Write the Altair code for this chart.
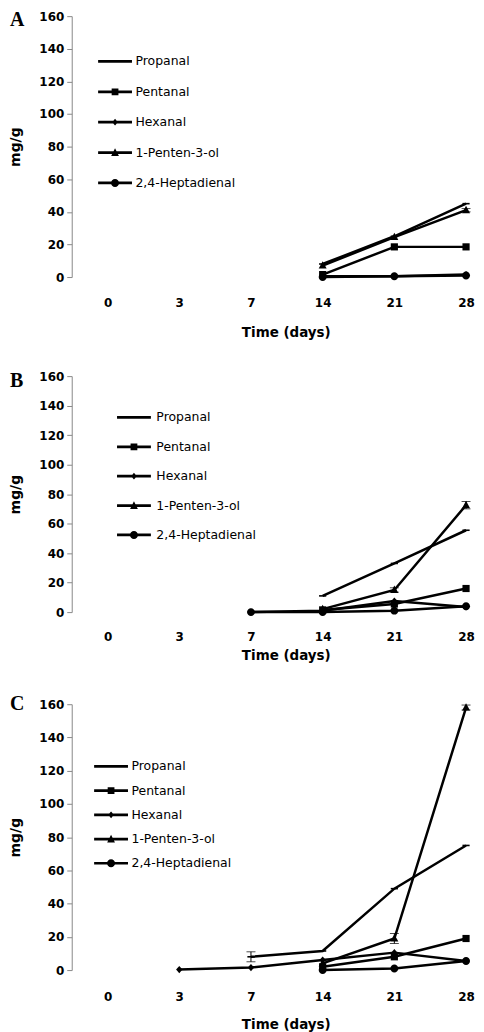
import altair as alt
import pandas as pd

# ---------------- data ----------------
days = ["0", "3", "7", "14", "21", "28"]
series = ["Propanal", "Pentanal", "Hexanal", "1-Penten-3-ol", "2,4-Heptadienal"]

# Panel A (None = not detected)
A_propanal = [None, None, None, 8, 25, 45]
A_pentanal = [None, None, None, 1.5, 18.5, 18.5]
A_hexanal = [None, None, None, 0.5, 0.5, 1.5]
A_penten = [None, None, None, 7, 24.5, 41]
A_heptadienal = [None, None, None, 0, 0.5, 1]

# Panel B
B_propanal = [None, None, None, 11, 33, 55.5]
B_pentanal = [None, None, None, 1.5, 5.5, 16]
B_hexanal = [None, None, 0, 1, 7.5, 3.5]
B_penten = [None, None, None, 2, 15, 72.5]
B_heptadienal = [None, None, 0, 0, 1, 4]

# Panel C
C_propanal = [None, None, 8, 11.5, 49, 75]
C_pentanal = [None, None, None, 2, 8, 19]
C_hexanal = [None, 0.3, 1.5, 6, 10.5, 5.5]
C_penten = [None, None, None, 4, 19, 158]
C_heptadienal = [None, None, None, 0, 1, 5.5]

# error bars (standard deviation, 0 = none visible)
A_err_penten = [0, 0, 0, 0, 0, 1]
B_err_penten = [0, 0, 0, 0, 1.5, 2.5]
C_err_propanal = [0, 0, 3, 0, 0, 0]
C_err_penten = [0, 0, 0, 0, 3, 1.5]

# ---------------- styles ----------------
marker_paths = [
    "M-0.9,-0.2H0.9V0.2H-0.9Z",                       # dash
    "M-0.9,-0.9H0.9V0.9H-0.9Z",                       # square
    "M0,-0.9L0.8,0L0,0.9L-0.8,0Z",                    # small diamond
    "M0,-1.1L1,0.75H-1Z",                             # triangle
    "M-1,0A1,1,0,1,1,1,0A1,1,0,1,1,-1,0Z",            # circle
]
LINE = "M-1,-0.08H1V0.08H-1Z"
legend_paths = [
    LINE,
    LINE + "M-0.2,-0.2H0.2V0.2H-0.2Z",
    LINE + "M0,-0.2L0.17,0L0,0.2L-0.17,0Z",
    LINE + "M0,-0.25L0.23,0.2H-0.23Z",
    LINE + "M-0.24,0A0.24,0.24,0,1,1,0.24,0A0.24,0.24,0,1,1,-0.24,0Z",
]

FONT = "DejaVu Sans"


def panel(letter, vals, errs, height, lab_pad, title_pad, leg_x, leg_y, row_pad,
          letter_y, lab_offset):
    rows = []
    for s, vs in zip(series, vals):
        for i, (d, v) in enumerate(zip(days, vs)):
            if v is not None:
                rows.append({"series": s, "day": d, "idx": i, "value": v})
    df = pd.DataFrame(rows)

    erows = []
    for s, es in errs.items():
        vs = vals[series.index(s)]
        for d, v, e in zip(days, vs, es):
            if v is not None and e:
                erows.append({"series": s, "day": d, "lo": v - e, "hi": v + e})
    edf = pd.DataFrame(erows)

    xenc = alt.X(
        "day:O", sort=days,
        scale=alt.Scale(type="point", domain=days, range=[36, 396], padding=0),
        axis=alt.Axis(title="Time (days)", labelAngle=0, domain=False, ticks=False,
                      labelPadding=lab_pad, titlePadding=title_pad,
                      titleX=215, titleAlign="center",
                      labelFont=FONT, labelFontSize=12, labelFontWeight="bold",
                      labelColor="black", titleFont=FONT, titleFontSize=13.5,
                      titleFontWeight="bold", titleColor="black"),
    )
    yaxis = alt.Axis(title="mg/g", values=list(range(0, 161, 20)), grid=False,
                     domainColor="#888888", tickColor="#888888", tickSize=5,
                     labelPadding=3, titlePadding=16,
                     labelFont=FONT, labelFontSize=12, labelFontWeight="bold",
                     labelColor="black", titleFont=FONT, titleFontSize=14,
                     titleFontWeight="bold", titleColor="black")
    yscale = alt.Scale(domain=[0, 160], nice=False)

    base = alt.Chart(df)
    lines = base.mark_line(color="black", strokeWidth=2.5).encode(
        x=xenc, y=alt.Y("value:Q", scale=yscale, axis=yaxis),
        detail="series:N", order="idx:Q")
    layers = [lines]
    if len(edf):
        eb = alt.Chart(edf)
        layers.append(eb.mark_rule(color="black", strokeWidth=1).encode(
            x=xenc, y=alt.Y("lo:Q", scale=yscale, axis=yaxis), y2="hi:Q"))
        layers.append(eb.mark_tick(color="black", thickness=1, size=9).encode(
            x=xenc, y=alt.Y("lo:Q", scale=yscale, axis=yaxis)))
        layers.append(eb.mark_tick(color="black", thickness=1, size=9).encode(
            x=xenc, y=alt.Y("hi:Q", scale=yscale, axis=yaxis)))
    pts = base.mark_point(filled=True, color="black", opacity=1, size=64).encode(
        x=xenc, y=alt.Y("value:Q", scale=yscale, axis=yaxis),
        shape=alt.Shape("series:N", scale=alt.Scale(domain=series, range=marker_paths),
                        legend=None))
    leg = base.mark_point(filled=True, color="black", opacity=0).encode(
        x=xenc, y=alt.Y("value:Q", scale=yscale, axis=yaxis),
        shape=alt.Shape("series:N", scale=alt.Scale(domain=series, range=legend_paths),
                        legend=alt.Legend(orient="none", legendX=leg_x, legendY=leg_y,
                                          title=None, labelFont=FONT, labelFontSize=12.5,
                                          labelColor="black", symbolSize=1156,
                                          symbolFillColor="black", symbolStrokeColor="black",
                                          symbolStrokeWidth=0.5, symbolOpacity=1,
                                          labelOffset=lab_offset, rowPadding=row_pad,
                                          padding=0)))
    label = alt.Chart(pd.DataFrame({"panel": [letter]})).mark_text(
        font="Liberation Serif", fontSize=20, fontWeight="bold", color="black",
        align="left", baseline="top").encode(
        text="panel:N", x=alt.value(-62), y=alt.value(letter_y))
    layers += [pts, leg, label]
    return alt.layer(*layers).resolve_scale(shape="independent").properties(
        width=406, height=height)


pA = panel("A", [A_propanal, A_pentanal, A_hexanal, A_penten, A_heptadienal],
           {"1-Penten-3-ol": A_err_penten}, 262, 21, 17, 26, 28, 6.5, -6, 3)
pB = panel("B", [B_propanal, B_pentanal, B_hexanal, B_penten, B_heptadienal],
           {"1-Penten-3-ol": B_err_penten}, 237, 20, 6, 45, 24, 5.5, -5, 5)
pC = panel("C", [C_propanal, C_pentanal, C_hexanal, C_penten, C_heptadienal],
           {"Propanal": C_err_propanal, "1-Penten-3-ol": C_err_penten},
           267, 22, 14.5, 22, 45, 0.3, -10.5, 3)

chart = alt.vconcat(alt.vconcat(pA, pB, spacing=30.5), pC, spacing=31).properties(
    padding=0).configure_view(stroke=None)

chart.save("out.html", embed_options={"renderer": "svg", "actions": False})
